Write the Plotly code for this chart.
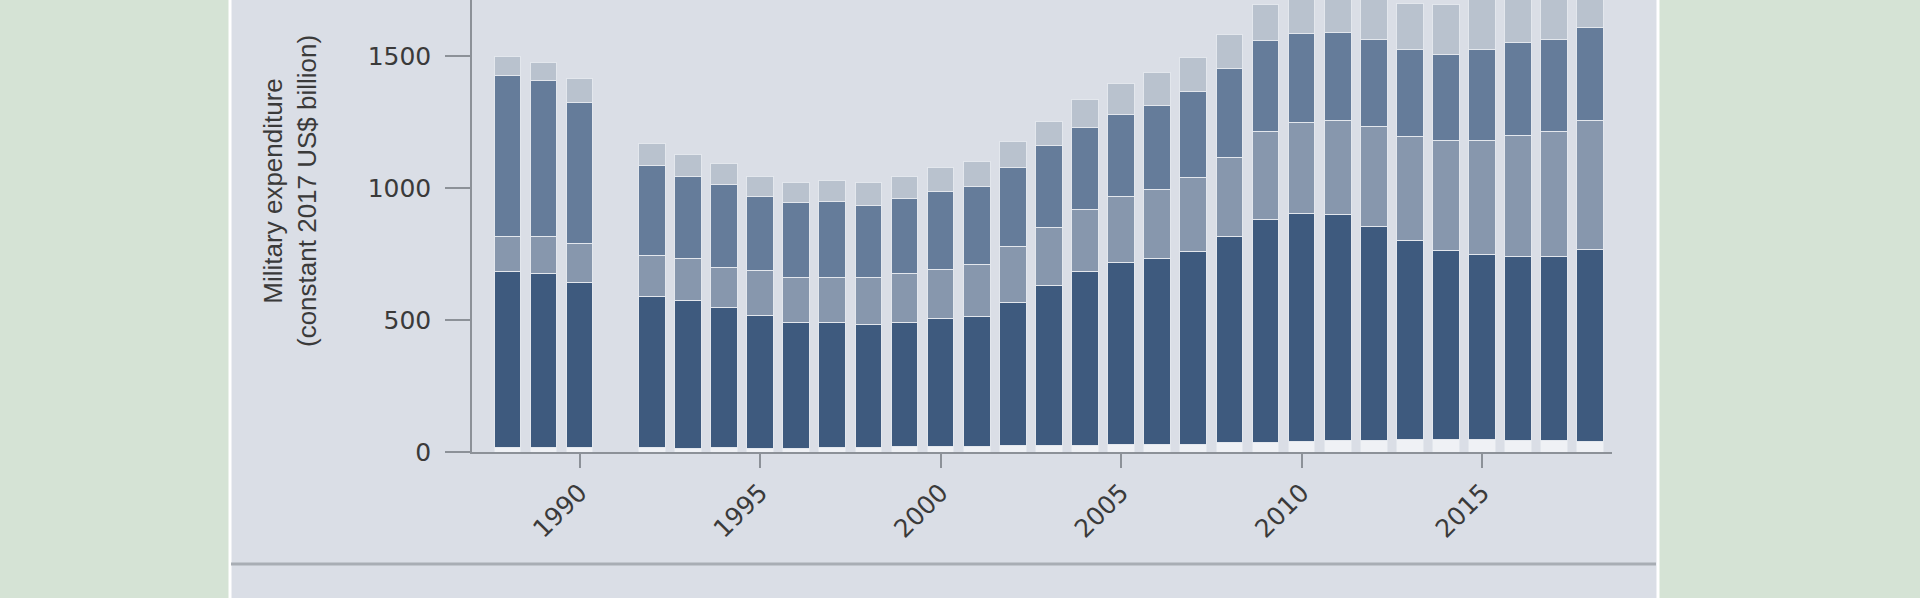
import plotly.graph_objects as go

years = [1988, 1989, 1990, 1992, 1993, 1994, 1995, 1996, 1997, 1998, 1999,
         2000, 2001, 2002, 2003, 2004, 2005, 2006, 2007, 2008, 2009,
         2010, 2011, 2012, 2013, 2014, 2015, 2016, 2017, 2018]

africa = [18, 17, 17, 16, 15, 16, 15, 15, 16, 18, 21,
          22, 22, 24, 24, 26, 27, 28, 30, 35, 37,
          38, 43, 45, 47, 48, 46, 44, 42, 40]
americas = [667, 661, 627, 575, 560, 531, 503, 475, 474, 465, 469,
            483, 490, 542, 608, 659, 691, 707, 731, 783, 845,
            866, 857, 810, 755, 717, 703, 698, 700, 728]
asia_oceania = [133, 139, 145, 152, 158, 154, 168, 171, 171, 177, 186,
                186, 198, 211, 220, 235, 251, 259, 278, 298, 334,
                344, 355, 377, 395, 416, 432, 456, 474, 489]
europe = [607, 592, 534, 344, 313, 314, 283, 284, 289, 275, 283,
          295, 297, 303, 308, 310, 311, 320, 328, 337, 342,
          337, 334, 331, 328, 327, 345, 355, 348, 352]
middle_east = [73, 68, 94, 82, 82, 78, 76, 75, 79, 85, 86,
               91, 95, 95, 93, 107, 116, 124, 128, 129, 138,
               150, 141, 157, 176, 187, 194, 187, 196, 211]

x_tick_vals = [1990, 1995, 2000, 2005, 2010, 2015]
y_tick_vals = [0, 500, 1000, 1500]

series = [
    ("Africa", africa, "#eff1f5"),
    ("Americas", americas, "#3e5a7e"),
    ("Asia and Oceania", asia_oceania, "#8797ad"),
    ("Europe", europe, "#657c9a"),
    ("Middle East", middle_east, "#b9c2ce"),
]

fig = go.Figure()
for name, vals, color in series:
    fig.add_trace(go.Bar(
        x=years, y=vals, name=name, width=0.74,
        marker=dict(color=color, line=dict(color="#e3e7ed", width=1)),
    ))

axis_col = "#8c9198"
tick_font = dict(family="DejaVu Sans", size=25, color="#3a3a3a")

# plot area in pixels: left 472, right 1612, top 0, bottom 452
L, R, T, B = 472, 1612, 0, 452
def px_x(p):
    return (p - L) / (R - L)
def px_y(p):
    return (B - p) / (B - T)

fig.update_layout(
    barmode="stack",
    width=1920, height=598,
    margin=dict(l=L, r=1920 - R, t=T, b=598 - B, pad=0),
    paper_bgcolor="#d5e3d5",
    plot_bgcolor="#dadee6",
    showlegend=False,
    xaxis=dict(
        range=[1987.02, 2018.6], tickvals=x_tick_vals, tickangle=-45,
        showline=True, linecolor=axis_col, linewidth=2,
        ticks="outside", ticklen=14, tickcolor=axis_col, tickwidth=1.5,
        showgrid=False, zeroline=False, tickfont=tick_font,
    ),
    yaxis=dict(
        range=[0, 1713], tickvals=y_tick_vals,
        showline=True, linecolor=axis_col, linewidth=1.5,
        ticks="outside", ticklen=25, tickcolor=axis_col, tickwidth=1.5,
        showgrid=False, zeroline=False, tickfont=tick_font,
        ticklabelstandoff=9,
    ),
    shapes=[
        dict(type="rect", xref="paper", yref="paper",
             x0=px_x(230), x1=px_x(1657), y0=px_y(598), y1=px_y(0),
             fillcolor="#dadee6", line=dict(width=0), layer="below"),
        dict(type="line", xref="paper", yref="paper",
             x0=px_x(230), x1=px_x(230), y0=px_y(598), y1=px_y(0),
             line=dict(color="#ffffff", width=3)),
        dict(type="line", xref="paper", yref="paper",
             x0=px_x(1658), x1=px_x(1658), y0=px_y(598), y1=px_y(0),
             line=dict(color="#ffffff", width=3)),
        dict(type="line", xref="paper", yref="paper",
             x0=px_x(231), x1=px_x(1656), y0=px_y(564), y1=px_y(564),
             line=dict(color="#a8adb4", width=3)),
    ],
    annotations=[
        dict(text="Military expenditure<br>(constant 2017 US$ billion)",
             xref="paper", yref="paper", x=px_x(290), y=px_y(191),
             xanchor="center", yanchor="middle", textangle=-90,
             showarrow=False,
             font=dict(family="Liberation Sans", size=26, color="#3a3a3a")),
    ],
)

fig.write_html(
    "out.html",
    config={"displayModeBar": False},
    post_script="document.body.style.margin='0';document.body.style.overflow='hidden';",
)
